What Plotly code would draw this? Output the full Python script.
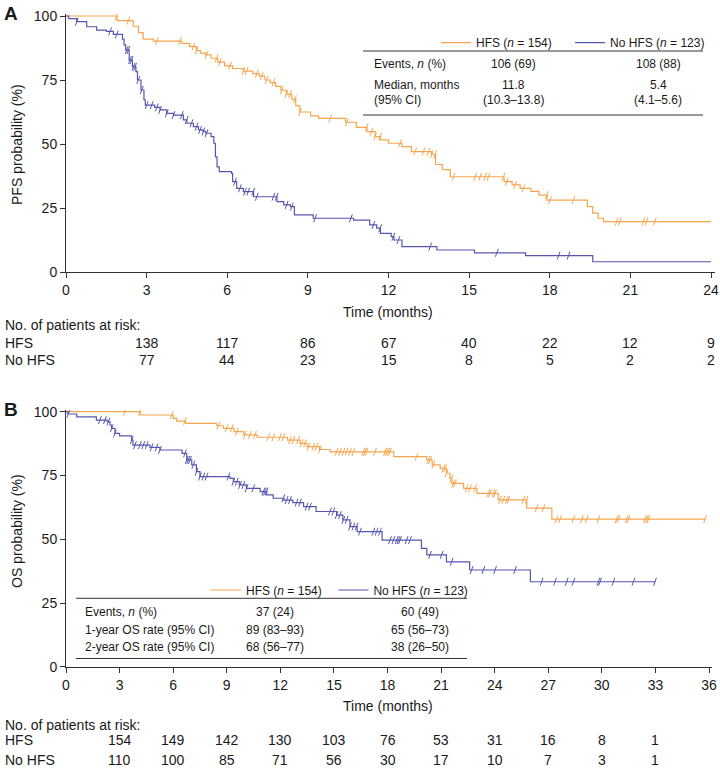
import numpy as np
import plotly.graph_objects as go

W, H = 720, 768
FONT = "Liberation Sans, Arial, Helvetica, sans-serif"
ORANGE = "#F6A54E"
BLUE = "#5656B0"
AX = "#333333"
TXT = "#1a1a1a"

# ---------------- Panel A: PFS ----------------
pfs_hfs_t = [0, 1.9, 2.5, 2.7, 2.87, 3.25, 4.3, 4.6, 4.85, 5.0, 5.2, 5.4, 5.65, 5.9, 6.2, 6.6, 6.95,
             7.2, 7.4, 7.6, 7.8, 8.0, 8.2, 8.4, 8.55, 8.7, 9.1, 9.4, 10.4, 10.8, 11.2, 11.5, 11.7,
             12.0, 12.5, 12.85, 13.6, 13.75, 14.0, 14.3, 16.3, 16.6, 16.9, 17.3, 17.6, 17.9, 19.4,
             19.6, 19.8, 20.0]
pfs_hfs_s = [100, 98.2, 96, 93.5, 91, 90.2, 89.3, 88, 86.5, 85.5, 84.8, 83.5, 82, 80.5, 79.5, 78.5, 77.5,
             76.5, 75, 74, 72.5, 71, 69.5, 67.5, 65, 62.5, 61, 60, 58.5, 56.5, 54.8, 52.9, 51.6,
             50.3, 49, 47, 46, 42, 40, 37.2, 35.3, 34, 32.7, 31.5, 30, 28.1, 25.5,
             23, 21, 19.7]
pfs_hfs_end = 24
pfs_hfs_cens = [1.89, 2.32, 3.38, 4.24, 4.74, 4.86, 5.23, 5.6, 5.73, 6.1, 6.6, 6.72, 7.1, 7.28, 7.47,
                7.72, 8.03, 8.2, 8.34, 8.52, 8.71, 9.83, 10.45, 11.19, 11.37, 11.5, 11.69, 12.43,
                12.99, 13.3, 13.49, 13.61, 13.74, 14.42, 15.22, 15.41, 15.6, 15.72, 16.28, 16.4,
                16.71, 17.02, 17.89, 18.01, 18.88, 20.49, 20.61, 21.48, 21.6, 21.91]

pfs_no_t = [0, 0.1, 0.4, 0.77, 1.14, 1.5, 1.76, 2.1, 2.16, 2.22, 2.35, 2.47, 2.6, 2.66, 2.79, 2.9, 2.95,
            3.3, 3.5, 3.75, 4.0, 4.37, 4.5, 4.74, 4.93, 5.1, 5.2, 5.4, 5.5, 5.56, 5.62, 5.7, 6.16,
            6.2, 6.35, 6.6, 6.98, 7.85, 8.1, 8.35, 8.5, 9.2, 10.7, 11.3, 11.56, 11.7, 12.1, 12.2,
            12.5, 13.8, 15.2, 17.1, 19.6]
pfs_no_s = [100, 99, 97.8, 95.8, 94.5, 94, 92.8, 91, 88.7, 86.7, 82.8, 80.2, 78.3, 75, 71.1, 67.2, 65.2,
            64.3, 63.3, 62, 61.3, 59.4, 58.1, 56.8, 55.5, 54.9, 54.2, 52.9, 50.3, 45, 41.1, 39.2, 38.5,
            35.3, 32.7, 31.4, 29.4, 27.5, 26.2, 25.5, 22.3, 21, 20.3, 18.4, 17.1, 15.1, 13.8, 12.5,
            9.9, 8.6, 7.5, 6.4, 4.0]
pfs_no_end = 24
pfs_no_cens = [0.4, 1.64, 1.89, 2.26, 2.32, 2.38, 2.44, 2.51, 2.57, 2.69, 2.82, 3.0, 3.19, 3.38, 3.5,
               3.75, 4.0, 4.31, 4.49, 4.67, 4.86, 4.99, 5.11, 5.23, 6.29, 6.47, 6.66, 6.78, 6.97, 7.1,
               7.72, 7.84, 8.21, 8.4, 9.27, 10.6, 11.44, 11.69, 12.18, 12.37, 13.55, 16.03, 18.33, 18.7]

pfs_risk_t = [3, 6, 9, 12, 15, 18, 21, 24]
pfs_risk_hfs = [138, 117, 86, 67, 40, 22, 12, 9]
pfs_risk_no = [77, 44, 23, 15, 8, 5, 2, 2]

# ---------------- Panel B: OS ----------------
os_hfs_t = [0, 4.15, 6.0, 6.2, 6.7, 8.44, 8.8, 9.4, 9.95, 10.7, 12.4, 13.1, 13.5, 14.2, 14.8, 18.35,
            20.2, 20.5, 20.95, 21.3, 21.5, 21.6, 22.26, 23.0, 24.2, 25.8, 27.2]
os_hfs_s = [100, 98.7, 97.4, 96.3, 95.4, 94.5, 93.5, 92.2, 90.9, 90, 88.9, 87.6, 86.3, 85.2, 84.3, 82.4,
            81.1, 79.2, 77.8, 75.9, 73.9, 71.9, 70, 68, 65.5, 62.2, 57.9]
os_hfs_end = 35.8
os_hfs_cens = [3.3, 4.14, 5.92, 6.66, 8.53, 9.0, 9.28, 9.56, 10.02, 10.3, 10.58, 11.33, 11.61, 11.98,
               12.17, 12.54, 12.73, 13.0, 13.19, 13.38, 13.57, 13.85, 14.03, 14.22, 15.15, 15.34,
               15.53, 15.71, 15.9, 16.09, 16.65, 16.74, 16.83, 17.3, 17.86, 17.95, 18.05, 18.14,
               19.63, 20.29, 20.38, 20.57, 21.13, 21.22, 21.31, 21.59, 21.68, 21.78, 22.43, 22.62,
               22.9, 23.65, 23.74, 23.93, 24.02, 24.3, 24.49, 24.67, 24.77, 25.61, 25.79, 26.35,
               26.73, 27.47, 27.66, 28.41, 28.88, 29.15, 29.81, 30.83, 30.93, 31.39, 31.49, 32.42,
               32.52, 32.61, 35.78]

os_no_t = [0, 0.1, 0.6, 1.7, 2.3, 2.46, 2.55, 2.74, 3.0, 3.67, 3.75, 4.7, 5.26, 6.5, 6.76, 7.04, 7.3,
           7.5, 9.18, 9.37, 9.7, 10.1, 10.87, 11.24, 11.6, 12.2, 12.7, 13.3, 14.0, 15.15, 15.5, 15.9,
           16.3, 17.7, 19.9, 20.2, 21.3, 22.6, 26.0]
os_no_s = [100, 99.1, 98, 96.7, 96.1, 94.8, 93.5, 91.5, 90.5, 88.9, 86.9, 86, 85, 83.7, 81.1, 79.2, 76.5,
           74.6, 73.9, 72.6, 71.3, 70, 68.7, 67.4, 66.1, 65.4, 64.4, 62.8, 60.9, 59.5, 57.6, 55,
           53, 49.7, 46.5, 43.9, 41.2, 38, 33.4]
os_no_end = 33.0
os_no_cens = [0.13, 1.9, 2.18, 2.37, 2.56, 2.74, 3.68, 3.86, 4.14, 4.33, 4.52, 4.79, 5.07, 5.26, 6.66,
              6.76, 6.85, 6.94, 7.13, 7.31, 7.5, 7.69, 7.87, 9.09, 9.37, 9.56, 9.74, 9.93, 10.11,
              10.49, 11.05, 11.14, 11.23, 12.17, 12.35, 12.54, 12.91, 13.1, 13.47, 13.66, 14.78,
              14.97, 15.15, 15.34, 15.53, 15.71, 15.9, 16.09, 16.27, 16.46, 17.21, 17.39, 17.58,
              18.14, 18.33, 18.51, 18.61, 18.7, 19.07, 19.26, 20.38, 21.03, 21.59, 22.71, 23.37,
              24.02, 25.14, 26.63, 27.38, 28.03, 28.41, 29.81, 29.9, 30.65, 31.77, 32.98]

os_risk_t = [3, 6, 9, 12, 15, 18, 21, 24, 27, 30, 33]
os_risk_hfs = [154, 149, 142, 130, 103, 76, 53, 31, 16, 8, 1]
os_risk_no = [110, 100, 85, 71, 56, 30, 17, 10, 7, 3, 1]

# ---------------- helpers ----------------
def px(x):
    return x / W


def py(y):
    return 1 - y / H


def surv_at(t_arr, s_arr, times):
    t_arr = np.asarray(t_arr)
    idx = np.searchsorted(t_arr, np.asarray(times), side="right") - 1
    return [s_arr[i] for i in idx]


fig = go.Figure()


def add_km(t, s, end, cens, color, name, xa, ya, legend):
    fig.add_trace(go.Scatter(
        x=list(t) + [end], y=list(s) + [s[-1]], mode="lines", line=dict(color=color, width=1.2, shape="hv"),
        name=name, xaxis=xa, yaxis=ya, legend=legend, showlegend=True, hoverinfo="skip"))
    fig.add_trace(go.Scatter(
        x=cens, y=surv_at(t, s, cens), mode="markers",
        marker=dict(symbol="line-ns", size=6, angle=20, line=dict(color=color, width=1)),
        xaxis=xa, yaxis=ya, showlegend=False, hoverinfo="skip"))


NB = "\u00a0"
HFS_NAME = "HFS (<i>n</i> = 154)"
NO_NAME = "No HFS (<i>n</i> = 123)"

add_km(pfs_hfs_t, pfs_hfs_s, pfs_hfs_end, pfs_hfs_cens, ORANGE, HFS_NAME + NB * 4, "x", "y", "legend")
add_km(pfs_no_t, pfs_no_s, pfs_no_end, pfs_no_cens, BLUE, NO_NAME, "x", "y", "legend")
add_km(os_hfs_t, os_hfs_s, os_hfs_end, os_hfs_cens, ORANGE, HFS_NAME + NB * 2, "x2", "y2", "legend2")
add_km(os_no_t, os_no_s, os_no_end, os_no_cens, BLUE, NO_NAME, "x2", "y2", "legend2")

# axis geometry (pixel positions of 0 and max tick)
axA = dict(x0=66, x24=711, y0=272, y100=16)
axB = dict(x0=66, x36=709, y0=667, y100=411.7)

pmA = (axA["x24"] - axA["x0"]) / 24
pmB = (axB["x36"] - axB["x0"]) / 36
puA = (axA["y0"] - axA["y100"]) / 100
puB = (axB["y0"] - axB["y100"]) / 100
XMAX_A, XMAX_B, YMAX = 24.15, 36.15, 100.8

common = dict(showline=True, linecolor=AX, linewidth=1, ticks="outside", ticklen=5, tickwidth=1,
              tickcolor=AX, showgrid=False, zeroline=False, automargin=False,
              tickfont=dict(family=FONT, size=14, color=TXT), fixedrange=True)

fig.update_layout(
    xaxis=dict(domain=[px(axA["x0"]), px(axA["x0"] + XMAX_A * pmA)], range=[0, XMAX_A],
               tickmode="array", tickvals=list(range(0, 25, 3)), anchor="y", **common),
    yaxis=dict(domain=[py(axA["y0"]), py(axA["y0"] - YMAX * puA)], range=[0, YMAX],
               tickmode="array", tickvals=[0, 25, 50, 75, 100], anchor="x", **common),
    xaxis2=dict(domain=[px(axB["x0"]), px(axB["x0"] + XMAX_B * pmB)], range=[0, XMAX_B],
                tickmode="array", tickvals=list(range(0, 37, 3)), anchor="y2", **common),
    yaxis2=dict(domain=[py(axB["y0"]), py(axB["y0"] - YMAX * puB)], range=[0, YMAX],
                tickmode="array", tickvals=[0, 25, 50, 75, 100], anchor="x2", **common),
)

ann = []


def text(x, y, s, size=14, xanchor="left", xref="paper", angle=0):
    ann.append(dict(x=x if xref != "paper" else px(x), y=py(y), xref=xref, yref="paper", text=s,
                    showarrow=False, xanchor=xanchor, yanchor="middle", textangle=angle,
                    font=dict(family=FONT, size=size, color=TXT)))


# panel letters
text(2, 14, "<b>A</b>", size=19)
text(2, 409, "<b>B</b>", size=19)

# axis titles
text(17, 145, "PFS probability (%)", xanchor="center", angle=-90)
text(17, 531, "OS probability (%)", xanchor="center", angle=-90)
text(388, 312, "Time (months)", xanchor="center")
text(388, 706, "Time (months)", xanchor="center")

# risk tables
text(3, 325, "No. of patients at risk:")
text(3, 343, "HFS")
text(3, 360, "No HFS")
for t_, a, b in zip(pfs_risk_t, pfs_risk_hfs, pfs_risk_no):
    text(t_, 343, str(a), xanchor="center", xref="x")
    text(t_, 360, str(b), xanchor="center", xref="x")

text(3, 725, "No. of patients at risk:")
text(3, 740, "HFS")
text(3, 760, "No HFS")
for t_, a, b in zip(os_risk_t, os_risk_hfs, os_risk_no):
    text(t_, 740, str(a), xanchor="center", xref="x2")
    text(t_, 760, str(b), xanchor="center", xref="x2")

# summary table A
tabA_rows = ["Events, <i>n</i> (%)", "Median, months", "(95% CI)"]
tabA_hfs = ["106 (69)", "11.8", "(10.3–13.8)"]
tabA_no = ["108 (88)", "5.4", "(4.1–5.6)"]
rowsA_y = [64.3, 85, 100]
for lbl, a, b, yy in zip(tabA_rows, tabA_hfs, tabA_no, rowsA_y):
    text(372, yy, lbl, size=12)
    text(513, yy, a, size=12, xanchor="center")
    text(658, yy, b, size=12, xanchor="center")

# summary table B
tabB_rows = ["Events, <i>n</i> (%)", "1-year OS rate (95% CI)", "2-year OS rate (95% CI)"]
tabB_hfs = ["37 (24)", "89 (83–93)", "68 (56–77)"]
tabB_no = ["60 (49)", "65 (56–73)", "38 (26–50)"]
rowsB_y = [611.7, 630, 646.7]
for lbl, a, b, yy in zip(tabB_rows, tabB_hfs, tabB_no, rowsB_y):
    text(83, yy, lbl, size=12)
    text(275, yy, a, size=12, xanchor="center")
    text(420, yy, b, size=12, xanchor="center")

shapes = []
for (x0, x1, yy) in [(363, 703, 51), (363, 703, 115), (76, 467, 598.3), (76, 467, 658.5)]:
    shapes.append(dict(type="line", xref="paper", yref="paper", x0=px(x0), x1=px(x1), y0=py(yy), y1=py(yy),
                       line=dict(color=AX, width=1)))

leg_common = dict(orientation="h", xanchor="left", yanchor="middle", bgcolor="rgba(0,0,0,0)",
                  borderwidth=0, font=dict(family=FONT, size=12, color=TXT), itemwidth=30,
                  tracegroupgap=0)

fig.update_layout(
    width=W, height=H, margin=dict(l=0, r=0, t=0, b=0), paper_bgcolor="white", plot_bgcolor="white",
    annotations=ann, shapes=shapes, showlegend=True,
    legend=dict(x=px(436), y=py(42.7), **leg_common),
    legend2=dict(x=px(206), y=py(590), **leg_common),
)

fig.write_html("out.html", config={"displayModeBar": False},
               post_script="document.body.style.margin='0';document.body.style.padding='0';")
